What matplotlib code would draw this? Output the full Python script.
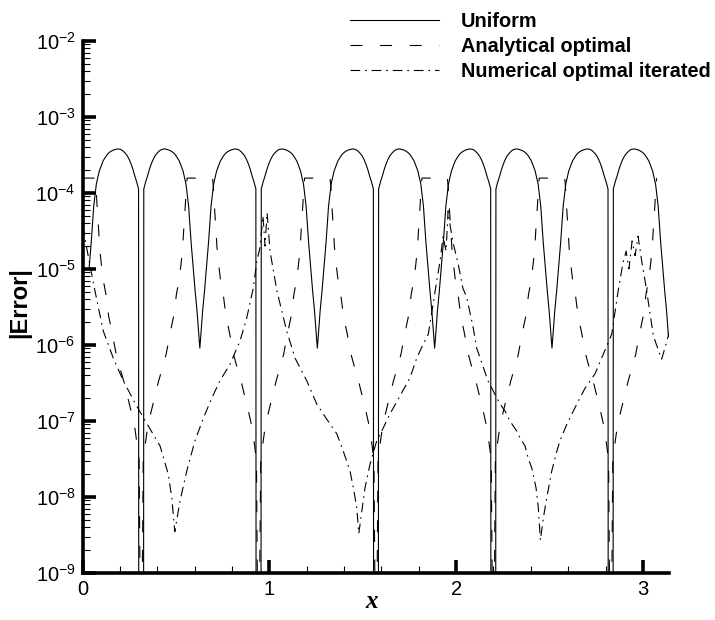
import numpy as np
import matplotlib
matplotlib.use('Agg')
import matplotlib.pyplot as plt
from matplotlib.ticker import LogLocator, NullFormatter, FuncFormatter, MultipleLocator, FixedLocator

plt.rcParams['font.family'] = ['Liberation Sans', 'DejaVu Sans']
plt.rcParams['lines.scale_dashes'] = False

# positions of the dips of the uniform error
shallow_dips = [0.0, 0.628, 1.257, 1.885, 2.513, 3.1416]
deep_dips = [0.314, 0.942, 1.571, 2.199, 2.827]

# Uniform: one half arc, by distance from a shallow dip (all arcs look the same)
uni_d = [0.0, 0.005, 0.015, 0.025, 0.035, 0.047, 0.060, 0.074, 0.08, 0.09, 0.10, 0.11,
         0.12, 0.13, 0.14, 0.15, 0.16, 0.17, 0.18, 0.19, 0.20, 0.21, 0.22, 0.23,
         0.24, 0.25, 0.26, 0.27, 0.28, 0.29, 0.300]
uni_err = [9.1e-7, 1.3e-6, 2.8e-6, 5.1e-6, 1.0e-5, 2.3e-5, 6.7e-5, 1.31e-4, 1.53e-4, 1.95e-4, 2.26e-4, 2.64e-4,
           2.89e-4, 3.16e-4, 3.36e-4, 3.51e-4, 3.62e-4, 3.70e-4, 3.76e-4, 3.80e-4, 3.76e-4, 3.68e-4, 3.51e-4, 3.31e-4,
           3.07e-4, 2.76e-4, 2.41e-4, 2.04e-4, 1.67e-4, 1.40e-4, 1.13e-4]
uni_edge = 1.0e-5          # value at x = 0
uni_dip_fill = [(-0.012, 1e-15), (0.012, 1e-15)]   # error hits zero at the deep dips

# Analytical optimal: one half period, by distance from a shallow dip
ana_d = [0.0, 0.068, 0.072, 0.078, 0.085, 0.092, 0.10, 0.11, 0.125, 0.14,
         0.16, 0.18, 0.20, 0.22, 0.24, 0.26, 0.28, 0.295, 0.303]
ana_err = [1.57e-4, 1.57e-4, 1.24e-4, 6.7e-5, 3.7e-5, 1.9e-5, 1.2e-5, 7.4e-6, 4.7e-6, 2.4e-6,
           1.4e-6, 7.6e-7, 5.0e-7, 3.4e-7, 2.15e-7, 1.35e-7, 8.1e-8, 4.4e-8, 3.0e-8]
ana_dip_fill = [(0.0, 1e-11)]

# Numerical optimal iterated
num_x = [0.0, 0.056, 0.111, 0.165, 0.218, 0.281, 0.352, 0.415, 0.459, 0.478, 0.494,
         0.522, 0.558, 0.602, 0.647, 0.692, 0.736, 0.79, 0.843, 0.879, 0.914, 0.933, 0.950,
         0.966, 0.977, 0.988, 1.004,
         1.041, 1.093, 1.138, 1.20, 1.254, 1.307, 1.361, 1.396, 1.432, 1.453, 1.468, 1.479,
         1.495, 1.512, 1.539, 1.575, 1.602, 1.646, 1.70, 1.753, 1.789, 1.824, 1.851, 1.896,
         1.914, 1.93, 1.946, 1.957, 1.968, 1.984, 2.01, 2.036, 2.057, 2.092, 2.11,
         2.17, 2.198, 2.235, 2.262, 2.288, 2.324, 2.342, 2.369, 2.385, 2.405, 2.428, 2.44, 2.451,
         2.467, 2.485, 2.512, 2.539, 2.556, 2.592, 2.646, 2.69, 2.744, 2.788, 2.833, 2.867,
         2.893, 2.91, 2.925, 2.942, 2.958, 2.974, 2.995, 3.016, 3.056, 3.10, 3.124, 3.1416]
num_err = [3.7e-5, 6.9e-6, 1.53e-6, 6.7e-7, 3.4e-7, 1.72e-7, 8.6e-8, 4.7e-8, 2.0e-8, 9.7e-9, 3.5e-9,
           8.9e-9, 2.2e-8, 5.5e-8, 1.09e-7, 2.0e-7, 3.4e-7, 5.6e-7, 1.13e-6, 2.26e-6, 5.6e-6, 1.27e-5, 1.9e-5,
           5.0e-5, 2.0e-5, 5.5e-5, 1.7e-5,
           5.1e-6, 1.53e-6, 6.7e-7, 3.4e-7, 1.67e-7, 1.06e-7, 6.8e-8, 4.0e-8, 2.2e-8, 1.2e-8, 7.2e-9, 3.3e-9,
           6.5e-9, 1.31e-8, 2.7e-8, 5.5e-8, 7.4e-8, 1.24e-7, 2.15e-7, 3.7e-7, 6.7e-7, 1.03e-6, 1.39e-6, 6.9e-6,
           1.27e-5, 2.7e-5, 1.72e-5, 5.8e-5, 3.7e-5, 2.2e-5, 1.2e-5, 5.6e-6, 4.2e-6, 1.66e-6, 9.1e-7,
           3.4e-7, 2.5e-7, 1.67e-7, 1.35e-7, 1.0e-7, 7.4e-8, 6.0e-8, 4.7e-8, 3.3e-8, 2.4e-8, 1.31e-8, 7.2e-9, 2.7e-9,
           5.3e-9, 9.7e-9, 2.2e-8, 4.0e-8, 5.5e-8, 9.0e-8, 1.67e-7, 2.7e-7, 4.2e-7, 7.6e-7, 1.39e-6, 5.1e-6,
           1.2e-5, 1.72e-5, 1.0e-5, 2.34e-5, 1.5e-5, 2.7e-5, 1.2e-5, 6.0e-6, 1.31e-6, 6.5e-7, 1.03e-6, 1.5e-6]

legend_labels = ['Uniform', 'Analytical optimal', 'Numerical optimal iterated']
y_ticks = [1e-9, 1e-8, 1e-7, 1e-6, 1e-5, 1e-4, 1e-3, 1e-2]
x_ticks = [0, 1, 2, 3]


def build(d, err, dip_fill):
    # mirror the half profile around every shallow dip, fill in the deep dips
    xs, ys = [], []
    for k, s in enumerate(shallow_dips):
        for di, e in zip(d[::-1], err[::-1]):
            xs.append(s - di)
            ys.append(e)
        for di, e in zip(d[1:], err[1:]):
            xs.append(s + di)
            ys.append(e)
        if k < len(deep_dips):
            for off, e in dip_fill:
                xs.append(deep_dips[k] + off)
                ys.append(e)
    xs, ys = np.array(xs), np.array(ys)
    keep = (xs >= 0) & (xs <= np.pi + 1e-9)
    return xs[keep], ys[keep]


ux, uy = build(uni_d, uni_err, uni_dip_fill)
start = ux > 0.03
ux = np.r_[0.0, ux[start]]
uy = np.r_[uni_edge, uy[start]]
ax_, ay_ = build(ana_d, ana_err, ana_dip_fill)

fig = plt.figure(figsize=(7.15, 6.2), dpi=100)
ax = fig.add_axes([0.1154, 0.0758, 0.8208, 0.8581])

lw = 0.8
ax.plot(ux, uy, color='k', lw=lw, label=legend_labels[0])
ax.plot(ax_, ay_, color='k', lw=lw, linestyle=(0, (8.6, 12.7)), label=legend_labels[1])
ax.plot(num_x, num_err, color='k', lw=lw, linestyle=(0, (7, 3.5, 1.2, 3.5)), label=legend_labels[2])

ax.set_yscale('log')
ax.set_ylim(1e-9, 1e-2)
ax.set_xlim(0, np.pi)

ax.yaxis.set_major_locator(FixedLocator(y_ticks))
ax.yaxis.set_major_formatter(FuncFormatter(lambda v, _: r'$\mathregular{10^{%d}}$' % round(np.log10(v))))
ax.yaxis.set_minor_locator(LogLocator(base=10, subs=range(2, 10), numticks=20))
ax.yaxis.set_minor_formatter(NullFormatter())
ax.xaxis.set_major_locator(FixedLocator(x_ticks))
ax.xaxis.set_minor_locator(MultipleLocator(0.2))

ax.tick_params(which='major', direction='in', length=9.5, width=2.6, labelsize=14.5, pad=5)
ax.tick_params(which='minor', direction='in', length=5, width=0.8)
ax.tick_params(which='both', top=False, right=False)

for side in ['top', 'right']:
    ax.spines[side].set_visible(False)
for side in ['left', 'bottom']:
    ax.spines[side].set_linewidth(2.6)

fig.text(20 / 715, 1 - 303 / 620, '|Error|', rotation=90, fontsize=17, fontweight='bold',
         ha='center', va='center')
fig.text(372 / 715, 1 - 602 / 620, 'x', fontsize=18, fontweight='bold', style='italic',
         family='Liberation Serif', ha='center', va='center')

fig.legend(loc='upper left', bbox_to_anchor=(350 / 715, 1 - 12 / 620), frameon=False,
           prop={'weight': 'bold', 'size': 14.3}, handlelength=4.5, handletextpad=1.1,
           labelspacing=0.3, borderpad=0, borderaxespad=0)

fig.savefig('out.png', dpi=100)
